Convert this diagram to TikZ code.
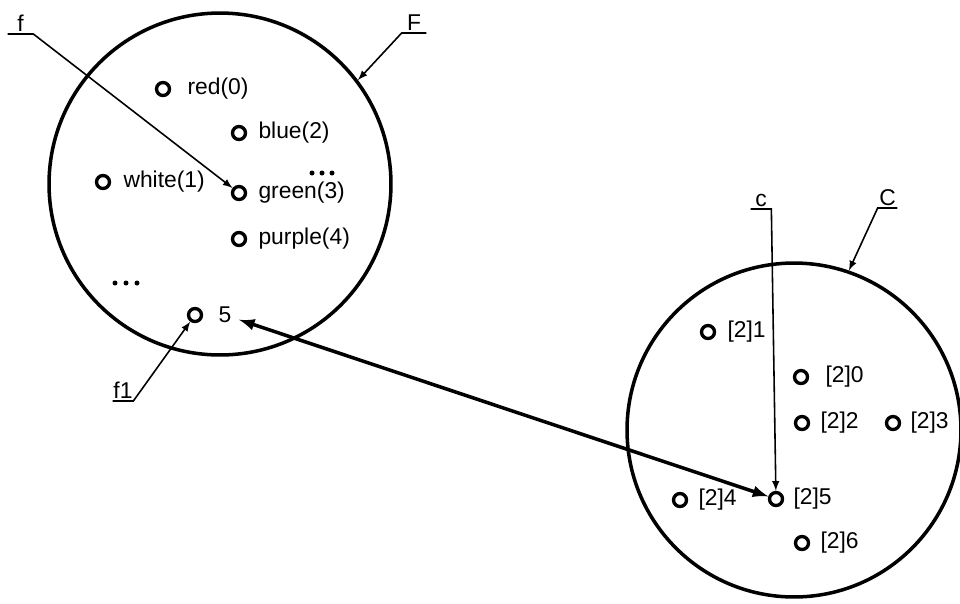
\documentclass[tikz,border=0pt]{standalone}
\usepackage{fontspec}
\setmainfont{Liberation Sans}
\usetikzlibrary{positioning}
\tikzset{
  bigset/.style={circle,draw,line width=2pt,inner sep=0pt},
  elem/.style={circle,draw,line width=1.9pt,minimum size=0.26cm,inner sep=0pt},
  lbl/.style={inner sep=0pt},
  namelbl/.style={anchor=south,inner xsep=0pt,inner ysep=1.5pt,text depth=0pt},
  pointer/.style={line width=0.9pt,-latex},
  link/.style={line width=2pt,latex-latex},
}
\begin{document}
\begin{tikzpicture}[x=0.02cm,y=-0.02cm,every node/.style={font=\fontsize{13}{15}\selectfont}]
 \useasboundingbox (0,0) rectangle (960,603);
 % the two sets
 \node[bigset,minimum size=6.84cm] (setF) at (220,184) {};
 \node[bigset,minimum size=6.68cm] (setC) at (794,430) {};
 % elements of F
 \node[elem] (red) at (163,89) {};
 \node[lbl,right=0.32cm of red] {red(0)};
 \node[elem] (blue) at (239,133) {};
 \node[lbl,right=0.22cm of blue] {blue(2)};
 \node[elem] (white) at (103,182) {};
 \node[lbl,right=0.24cm of white] {white(1)};
 \node[elem] (green) at (239,193) {};
 \node[lbl,right=0.22cm of green] {green(3)};
 \node[elem] (purple) at (239,239) {};
 \node[lbl,right=0.22cm of purple] {purple(4)};
 \node[elem] (five) at (195,315) {};
 \node[inner ysep=0pt,inner xsep=0.15cm,right=0.15cm of five] (t5) {5};
 \foreach \dx in {-10,0,10} \fill (322+\dx,173) circle (2.5);
 \foreach \dx in {-11,0,11} \fill (126+\dx,283) circle (2.5);
 % elements of C
 \node[elem] (c21) at (708,332) {};
 \node[lbl,right=0.22cm of c21] {[2]1};
 \node[elem] (c20) at (801,377) {};
 \node[lbl,right=0.32cm of c20] {[2]0};
 \node[elem] (c22) at (802,423) {};
 \node[lbl,right=0.2cm of c22] {[2]2};
 \node[elem] (c23) at (893,423) {};
 \node[lbl,right=0.18cm of c23] {[2]3};
 \node[elem] (c24) at (680,500) {};
 \node[lbl,right=0.2cm of c24] {[2]4};
 \node[elem] (c25) at (776,499) {};
 \node[lbl,right=0.18cm of c25] {[2]5};
 \node[elem] (c26) at (802,543) {};
 \node[lbl,right=0.2cm of c26] {[2]6};
 % names
 \node[namelbl,minimum width=0.5cm] (fl) at (20.5,34) {f};
 \node[namelbl,minimum width=0.48cm] (Fl) at (414,33) {F};
 \node[namelbl,minimum width=0.4cm] (f1l) at (123,401) {f1};
 \node[namelbl,minimum width=0.4cm] (cl) at (761,209) {c};
 \node[namelbl,minimum width=0.38cm] (Cl) at (887.5,208) {C};
 \draw[pointer] (fl.south west) -- (fl.south east) -- (green);
 \draw[pointer] (Fl.south east) -- (Fl.south west) -- (setF.37.5);
 \draw[pointer] (f1l.south west) -- (f1l.south east) -- (five);
 \draw[pointer] (cl.south west) -- (cl.south east) -- (c25);
 \draw[pointer] (Cl.south east) -- (Cl.south west) -- (setC.71);
 \draw[link] (t5) -- (c25);
\end{tikzpicture}
\end{document}
